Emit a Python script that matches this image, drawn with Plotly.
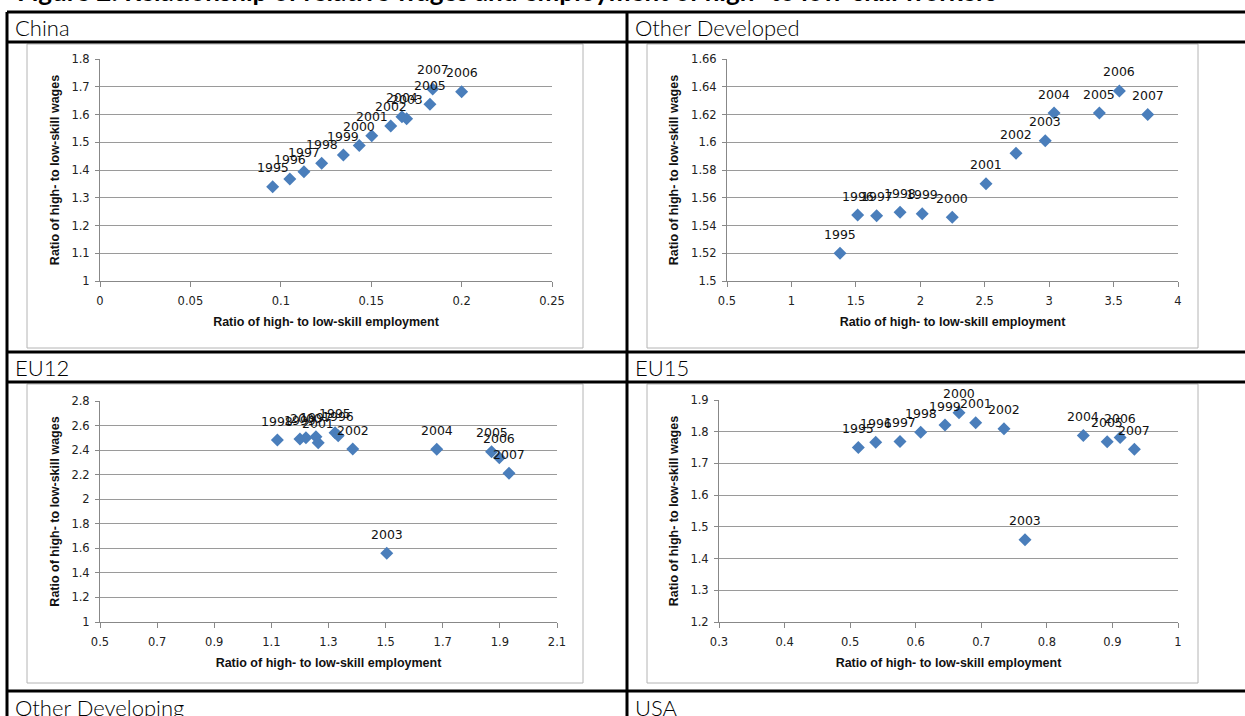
import plotly.graph_objects as go

W, H = 1245, 716

# ---- data: ratio of high- to low-skill employment (x) and wages (y), 1995-2007
years = [1995, 1996, 1997, 1998, 1999, 2000, 2001, 2002, 2003, 2004, 2005, 2006, 2007]

china_emp = [0.0955, 0.105, 0.1128, 0.1226, 0.1346, 0.1434, 0.1503, 0.1608, 0.1696, 0.167, 0.1825, 0.200, 0.184]
china_wage = [1.340, 1.368, 1.394, 1.424, 1.454, 1.488, 1.523, 1.559, 1.585, 1.592, 1.637, 1.682, 1.692]

oth_dev_emp = [1.377, 1.514, 1.661, 1.843, 2.015, 2.248, 2.51, 2.743, 2.97, 3.038, 3.39, 3.545, 3.765]
oth_dev_wage = [1.520, 1.5475, 1.547, 1.5495, 1.5485, 1.546, 1.570, 1.592, 1.601, 1.621, 1.621, 1.637, 1.620]

eu12_emp = [1.323, 1.334, 1.256, 1.121, 1.200, 1.221, 1.264, 1.385, 1.504, 1.679, 1.871, 1.898, 1.932]
eu12_wage = [2.542, 2.517, 2.509, 2.482, 2.490, 2.501, 2.460, 2.409, 1.559, 2.407, 2.387, 2.338, 2.211]

eu15_emp = [0.5125, 0.539, 0.576, 0.6076, 0.6447, 0.666, 0.6915, 0.7346, 0.7667, 0.8556, 0.892, 0.9117, 0.9335]
eu15_wage = [1.750, 1.767, 1.769, 1.798, 1.821, 1.860, 1.828, 1.809, 1.459, 1.788, 1.768, 1.782, 1.745]

region_names = ["China", "Other Developed", "EU12", "EU15"]
lower_names = ["Other Developing", "USA"]
x_title = "Ratio of high- to low-skill employment"
y_title = "Ratio of high- to low-skill wages"
fig_title = "Figure 2: Relationship of relative wages and employment of high- to low-skill workers"

# ---- page geometry (pixels)
def fx(px):
    return px / W

def fy(py):
    return 1 - py / H

panels = [
    # name, x data, y data, x range, dx, y range, dy, plot box (l, r, t, b)
    dict(name=region_names[0], x=china_emp, y=china_wage, xr=[0, 0.25], dx=0.05,
         yr=[1, 1.8], dy=0.1, box=(100, 552, 59, 281)),
    dict(name=region_names[1], x=oth_dev_emp, y=oth_dev_wage, xr=[0.5, 4], dx=0.5,
         yr=[1.5, 1.66], dy=0.02, box=(727, 1178, 59, 281)),
    dict(name=region_names[2], x=eu12_emp, y=eu12_wage, xr=[0.5, 2.1], dx=0.2,
         yr=[1, 2.8], dy=0.2, box=(100, 557, 401, 622)),
    dict(name=region_names[3], x=eu15_emp, y=eu15_wage, xr=[0.3, 1.0], dx=0.1,
         yr=[1.2, 1.9], dy=0.1, box=(719, 1178, 400, 622)),
]

MARKER_BLUE = "#4a7ebb"
TICK_FONT = dict(family="DejaVu Sans", size=11.5, color="#222222")
TITLE_FONT = dict(family="Liberation Sans", size=12.5, color="#111111")
LABEL_FONT = dict(family="DejaVu Sans", size=12.5, color="#111111")

fig = go.Figure()
layout = dict(
    width=W, height=H, autosize=False,
    margin=dict(l=0, r=0, t=0, b=0),
    paper_bgcolor="white", plot_bgcolor="white",
    showlegend=False,
)
annotations = []

for i, p in enumerate(panels, start=1):
    xa = "x" if i == 1 else f"x{i}"
    ya = "y" if i == 1 else f"y{i}"
    l, r, t, b = p["box"]
    fig.add_trace(go.Scatter(
        x=p["x"], y=p["y"], mode="markers", xaxis=xa, yaxis=ya,
        marker=dict(symbol="diamond", size=10, color=MARKER_BLUE, line=dict(width=0)),
        hoverinfo="x+y",
    ))
    for yr_, xv, yv in zip(years, p["x"], p["y"]):
        annotations.append(dict(
            x=xv, y=yv, xref=xa, yref=ya, text=str(yr_), showarrow=False,
            yshift=19, font=LABEL_FONT,
        ))
    key_x = "xaxis" if i == 1 else f"xaxis{i}"
    key_y = "yaxis" if i == 1 else f"yaxis{i}"
    layout[key_x] = dict(
        domain=[fx(l), fx(r)], anchor=ya, range=p["xr"], dtick=p["dx"], tick0=p["xr"][0],
        showgrid=False, zeroline=False, showline=True, linecolor="#888888", linewidth=1,
        ticks="outside", ticklen=5, tickcolor="#888888", tickfont=TICK_FONT,
        ticklabelstandoff=4,
        title=dict(text=f"<b>{x_title}</b>", font=TITLE_FONT, standoff=10),
        automargin=False, fixedrange=True,
    )
    layout[key_y] = dict(
        domain=[fy(b), fy(t)], anchor=xa, range=p["yr"], dtick=p["dy"], tick0=p["yr"][0],
        showgrid=True, gridcolor="#9a9a9a", gridwidth=1, zeroline=False,
        showline=True, linecolor="#888888", linewidth=1,
        ticks="outside", ticklen=4, tickcolor="#888888", tickfont=TICK_FONT,
        ticklabelstandoff=3,
        title=dict(text=f"<b>{y_title}</b>", font=TITLE_FONT, standoff=9),
        automargin=False, fixedrange=True,
    )

# ---- table frame and chart-area boxes
shapes = []
BLACK = dict(color="black", width=3)
for py in [12, 42, 352, 382, 691]:
    shapes.append(dict(type="line", xref="paper", yref="paper",
                       x0=fx(7), x1=1.0, y0=fy(py), y1=fy(py), line=BLACK))
for px in [7, 627]:
    shapes.append(dict(type="line", xref="paper", yref="paper",
                       x0=fx(px), x1=fx(px), y0=fy(12), y1=0, line=BLACK))
for (x0, y0, x1, y1) in [(27, 44, 583, 348), (647, 44, 1198, 348),
                         (27, 384, 583, 683), (647, 384, 1198, 683)]:
    shapes.append(dict(type="rect", xref="paper", yref="paper",
                       x0=fx(x0), x1=fx(x1), y0=fy(y1), y1=fy(y0),
                       line=dict(color="#b4b4b4", width=1), layer="below"))

# ---- cell headings
CELL_FONT = dict(family="Lato", size=22, color="black", weight=300)
heads = [(region_names[0], 13, 27), (region_names[1], 633, 27),
         (region_names[2], 13, 367), (region_names[3], 633, 367),
         (lower_names[0], 13, 707), (lower_names[1], 633, 707)]
for text, px, py in heads:
    annotations.append(dict(text=text, x=fx(px), y=fy(py), xref="paper", yref="paper",
                            xanchor="left", yanchor="middle", showarrow=False,
                            font=CELL_FONT))

# figure caption running off the top of the page
annotations.append(dict(text=f"<b>{fig_title}</b>", x=fx(15), y=fy(9), xref="paper", yref="paper",
                        xanchor="left", yanchor="bottom", showarrow=False,
                        font=dict(family="Lato", size=26, color="black")))

layout["shapes"] = shapes
layout["annotations"] = annotations
fig.update_layout(**layout)

fig.write_html("out.html")
